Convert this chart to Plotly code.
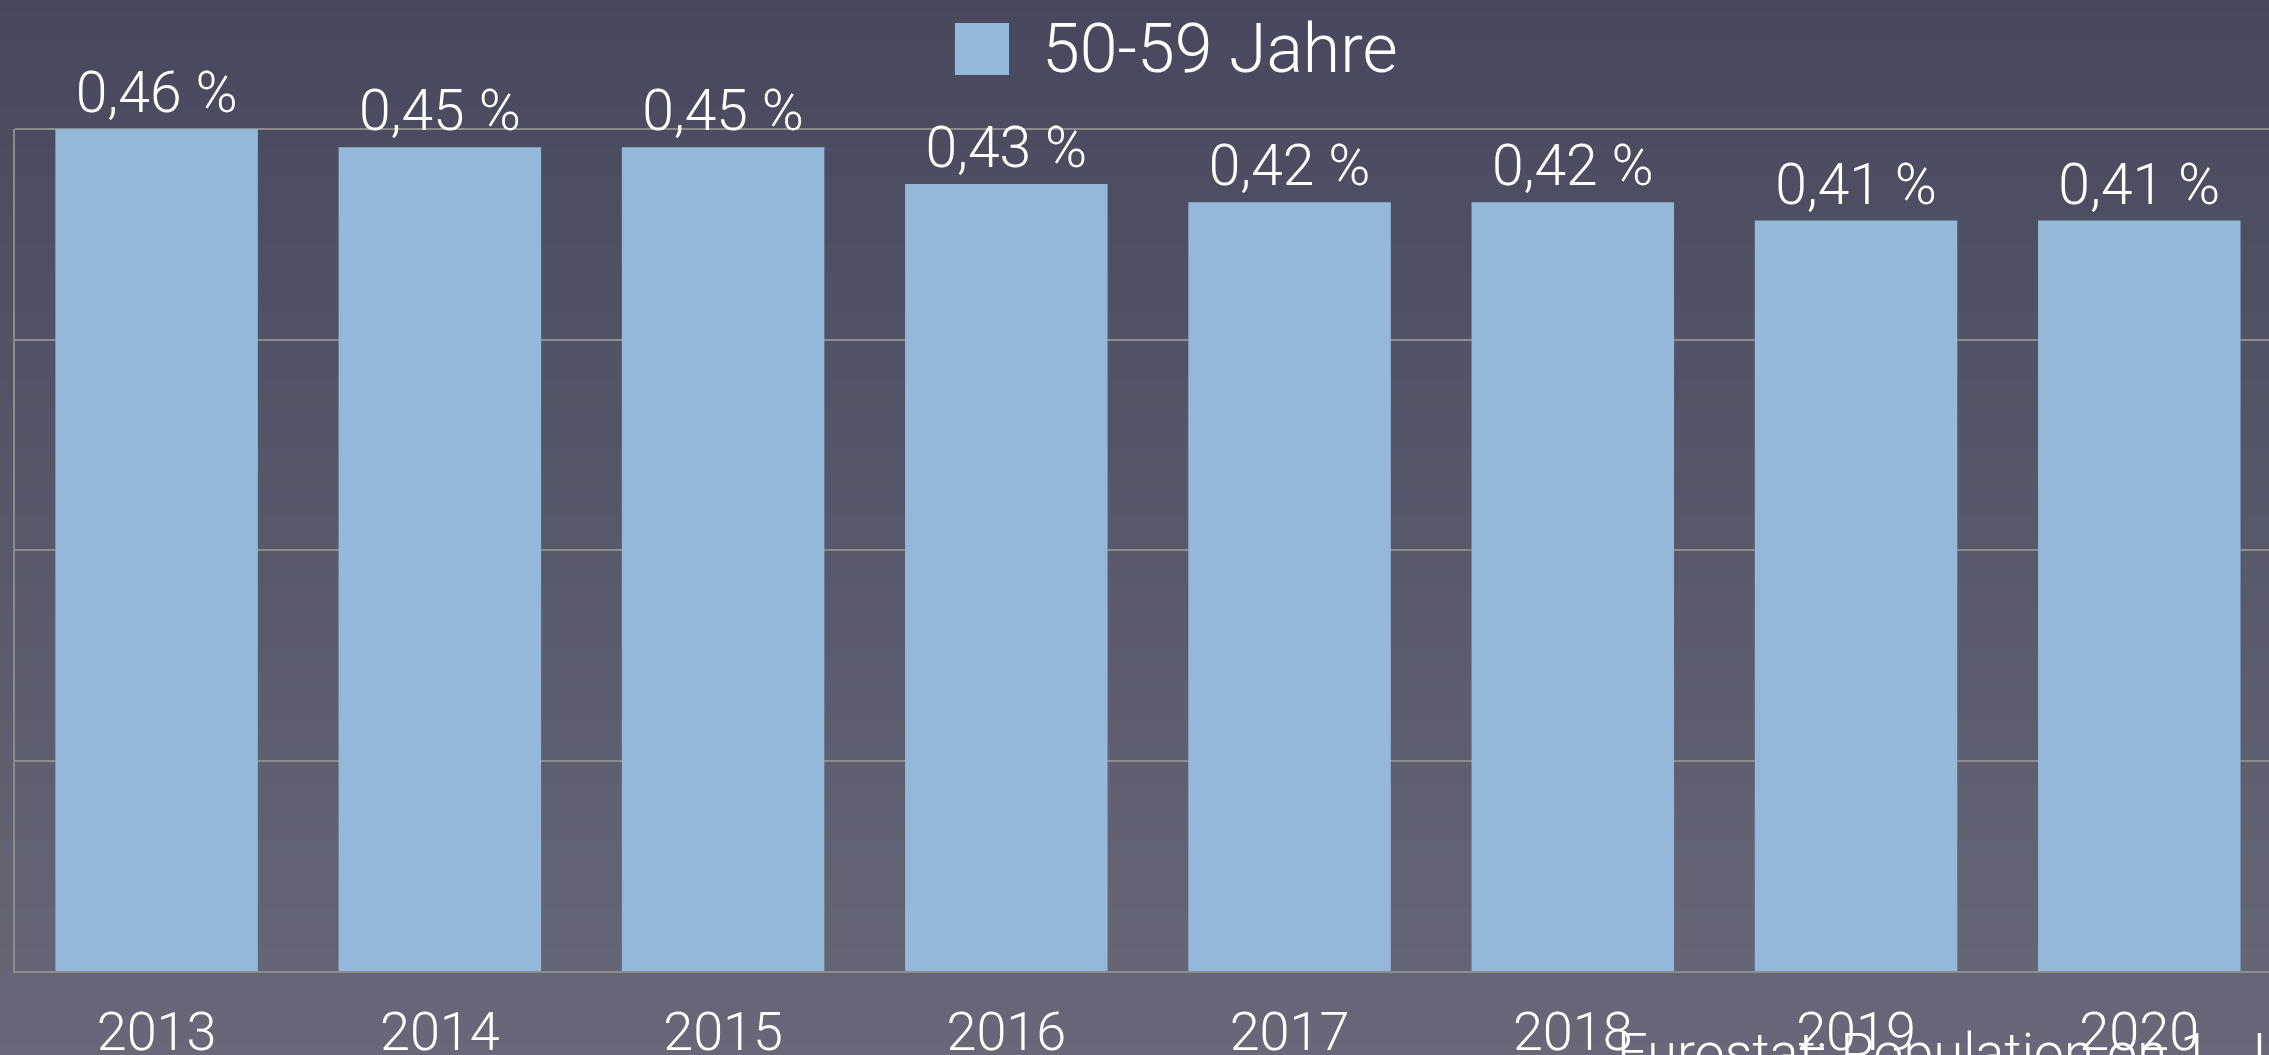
import plotly.graph_objects as go

years = ["2013", "2014", "2015", "2016", "2017", "2018", "2019", "2020"]
values = [0.46, 0.45, 0.45, 0.43, 0.42, 0.42, 0.41, 0.41]
series_name = "50-59 Jahre"
y_ticks = [0, 0.115, 0.23, 0.345, 0.46]
source_text = "Eurostat: Population on 1. January by age group and sex"

W, H = 2269, 1055
FONT = "Roboto"
bar_color = "#94b8da"
grid_color = "#8c8c8c"

fig = go.Figure()
fig.add_trace(go.Bar(
    x=years, y=values, name=series_name,
    marker=dict(color=bar_color, line=dict(width=0)),
    texttemplate="%{y:.2f} %", textposition="outside",
    textfont=dict(family=FONT, size=57, color="white", weight=300),
    cliponaxis=False, showlegend=False,
))

# vertical gradient background
top = (71, 72, 93)
bot = (104, 104, 120)
n = 80
y_hi, y_lo = 1.17, -0.12
shapes = []
for i in range(n):
    t = i / (n - 1)
    c = tuple(round(top[k] + (bot[k] - top[k]) * t) for k in range(3))
    step = (y_hi - y_lo) / n
    shapes.append(dict(type="rect", xref="paper", yref="paper",
                       x0=-0.05, x1=1.05,
                       y0=y_hi - (i + 1) * step - 0.001, y1=y_hi - i * step + 0.001,
                       fillcolor="rgb(%d,%d,%d)" % c, line=dict(width=0), layer="below"))

# top border of plot area
shapes.append(dict(type="line", xref="paper", yref="paper", x0=0, x1=1, y0=1, y1=1,
                   line=dict(color=grid_color, width=2), layer="below"))
# legend swatch
shapes.append(dict(type="rect", xref="paper", yref="paper",
                   x0=0.417, x1=0.441, y0=1.0641, y1=1.1259,
                   fillcolor=bar_color, line=dict(width=0), layer="above"))

fig.update_layout(
    width=W, height=H,
    margin=dict(l=15, r=0, t=129, b=84, autoexpand=False),
    paper_bgcolor="rgb(%d,%d,%d)" % bot, plot_bgcolor="rgba(0,0,0,0)",
    shapes=shapes,
    separators=", ",
    bargap=0.285,
    showlegend=False,
    font=dict(family=FONT, color="white", weight=300),
    xaxis=dict(range=[-0.5, 7.458], showline=True, linecolor=grid_color, linewidth=2,
               showgrid=False, ticks="", automargin=False,
               tickfont=dict(family=FONT, size=54, color="white", weight=300),
               ticklabelstandoff=12),
    yaxis=dict(range=[0, 0.46], tickvals=y_ticks, showticklabels=False, showgrid=True,
               gridcolor=grid_color, gridwidth=2, showline=True, linecolor=grid_color,
               linewidth=2, zeroline=False, ticks="", automargin=False),
    annotations=[
        dict(text=series_name, xref="paper", yref="paper", x=0.4548, y=1.095,
             xanchor="left", yanchor="middle", showarrow=False,
             font=dict(family=FONT, size=68, color="white", weight=300)),
        dict(text=source_text, xref="paper", yref="paper", x=0.71, y=-0.057,
             xanchor="left", yanchor="top", showarrow=False,
             font=dict(family=FONT, size=54, color="white", weight=300)),
    ],
)

fig.write_html("out.html", config={"displayModeBar": False},
               post_script="document.body.style.margin='0';document.body.style.overflow='hidden';")
